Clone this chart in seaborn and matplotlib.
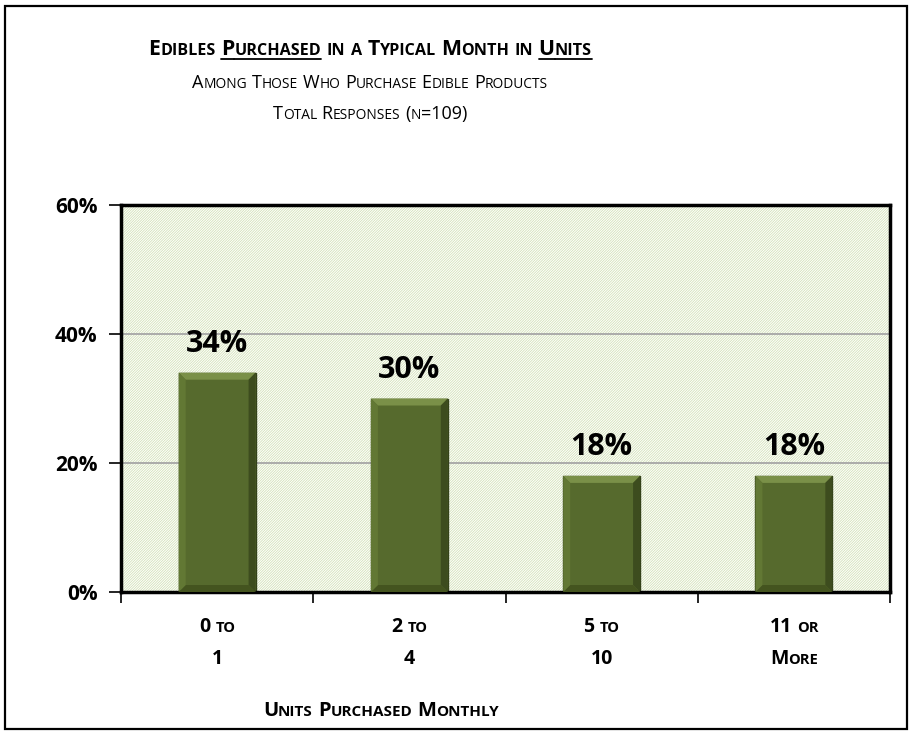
import matplotlib
matplotlib.use('Agg')
import matplotlib.pyplot as plt
import seaborn as sns
import pandas as pd
from matplotlib.patches import Rectangle, Polygon

# chart data
categories = ['0 to\n1', '2 to\n4', '5 to\n10', '11 or\nMore']
shares = [34, 30, 18, 18]
y_ticks = [0, 20, 40, 60]

df = pd.DataFrame({'units': categories, 'share': shares})

sns.set_style('white')
plt.rcParams['font.family'] = ['Open Sans', 'DejaVu Sans']
plt.rcParams['hatch.linewidth'] = 0.6
for key in ['text.color', 'xtick.color', 'ytick.color', 'axes.labelcolor']:
    plt.rcParams[key] = 'black'

W, H = 913, 734
fig = plt.figure(figsize=(W / 100, H / 100), dpi=100)
ax = fig.add_axes([121 / W, 1 - 592 / H, 769 / W, 387 / H])

# hatched plot background
ax.add_patch(Rectangle((0, 0), 1, 1, transform=ax.transAxes, facecolor='white',
                       edgecolor='#d3e2b8', hatch='/' * 13, lw=0, zorder=0))
for v in [20, 40]:
    ax.axhline(v, color='#a6a6a6', lw=1.3, zorder=1)

sns.barplot(data=df, x='units', y='share', color='#566a2d', width=0.4,
            saturation=1, edgecolor='#34421a', linewidth=1, ax=ax, zorder=2)

ax.set_ylim(0, 60)
ax.set_xlim(-0.5, len(categories) - 0.5)
ax.set_yticks(y_ticks)
ax.set_yticklabels([f'{v}%' for v in y_ticks], fontsize=15, fontweight='bold')
ax.set_xticks([i - 0.5 for i in range(len(categories) + 1)])
ax.set_xticklabels([])
ax.tick_params(axis='y', length=9, width=1.2, left=True, pad=8)
ax.tick_params(axis='x', length=8, width=1.2, bottom=True, direction='out')
ax.set_xlabel('')
ax.set_ylabel('')
for s in ax.spines.values():
    s.set_visible(True)
    s.set_color('black')
    s.set_linewidth(2.5)

# bevel on bars
fig.canvas.draw()
inv = ax.transData.inverted()
p0 = inv.transform((0, 0))
p1 = inv.transform((7, 7))
dx, dy = p1[0] - p0[0], p1[1] - p0[1]
for bar in ax.patches[1:]:
    x0, w, h = bar.get_x(), bar.get_width(), bar.get_height()
    x1 = x0 + w
    ax.add_patch(Polygon([(x0, h), (x1, h), (x1 - dx, h - dy), (x0 + dx, h - dy)],
                         facecolor='#7a9048', lw=0, zorder=3))
    ax.add_patch(Polygon([(x1, h), (x1, 0), (x1 - dx, dy), (x1 - dx, h - dy)],
                         facecolor='#3d4c1e', lw=0, zorder=3))
    ax.add_patch(Polygon([(x0, 0), (x1, 0), (x1 - dx, dy), (x0 + dx, dy)],
                         facecolor='#44541f', lw=0, zorder=3))
    ax.add_patch(Polygon([(x0, h), (x0, 0), (x0 + dx, dy), (x0 + dx, h - dy)],
                         facecolor='#627834', lw=0, zorder=3))

for i, v in enumerate(shares):
    ax.annotate(f'{v}%', (i, v), xytext=(0, 10), textcoords='offset points',
                ha='center', va='bottom', fontsize=22, fontweight='bold', zorder=5)


def caps_line(cx, base, parts, size, weight='normal', small=0.76):
    # small caps text centred at cx, baseline at base (pixels from top)
    r = fig.canvas.get_renderer()
    px = size * 100 / 72
    chars = [(ch, ul) for text, ul in parts for ch in text]
    runs = []
    for ch, ul in chars:
        kind = 'sp' if ch == ' ' else ('lo' if ch.islower() else 'up')
        if runs and runs[-1][1] == kind and runs[-1][2] == ul:
            runs[-1][0] += ch
        else:
            runs.append([ch, kind, ul])
    items = []
    for seg, kind, ul in runs:
        if kind == 'sp':
            items.append((None, px * 0.26 * len(seg), ul))
        else:
            t = fig.text(0, 0, seg.upper(), fontsize=size * small if kind == 'lo' else size,
                         fontweight=weight, transform=None, ha='left', va='baseline')
            items.append((t, t.get_window_extent(r).width, ul))
    total = sum(w for _, w, _ in items)
    x = cx - total / 2
    y = H - base
    for t, w, ul in items:
        if t is not None:
            t.set_position((x, y))
        if ul:
            fig.add_artist(plt.Line2D([x, x + w], [y - 4, y - 4], color='black',
                                      lw=1.3, transform=None))
        x += w


caps_line(370, 55, [('Edibles ', False), ('Purchased', True),
                    (' in a Typical Month in ', False), ('Units', True)], 15.3, 'bold')
caps_line(370, 88, [('Among Those Who Purchase Edible Products', False)], 13)
caps_line(370, 119, [('Total Responses (n=109)', False)], 13)

for i, lab in enumerate(categories):
    xc = ax.transData.transform((i, 0))[0]
    for j, line in enumerate(lab.split('\n')):
        caps_line(xc, 632 + 32 * j, [(line, False)], 14, 'bold')

caps_line(381, 716, [('Units Purchased Monthly', False)], 14.5, 'bold')

fig.add_artist(Rectangle((5 / W, 5 / H), 902 / W, 723 / H, transform=fig.transFigure,
                         fill=False, edgecolor='black', lw=1.6))

fig.savefig('out.png', dpi=100)
